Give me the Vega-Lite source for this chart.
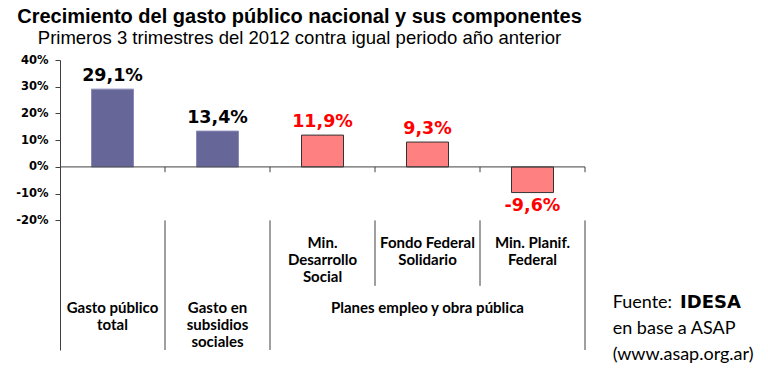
{
  "$schema": "https://vega.github.io/schema/vega-lite/v6.json",
  "width": 525,
  "height": 290,
  "autosize": "none",
  "padding": {"left": 60, "top": 60, "right": 183, "bottom": 21},
  "background": "white",
  "config": {"view": {"stroke": null}, "text": {"lineBreak": "\n"}},
  "title": {
    "text": "Crecimiento del gasto público nacional y sus componentes",
    "subtitle": "Primeros 3 trimestres del 2012 contra igual periodo año anterior",
    "anchor": "middle",
    "dx": -23,
    "font": "Liberation Sans",
    "fontSize": 20,
    "fontWeight": "bold",
    "color": "black",
    "subtitleFont": "Liberation Sans",
    "subtitleFontSize": 18.5,
    "subtitleColor": "black",
    "subtitlePadding": 2,
    "offset": 7
  },
  "datasets": {
    "bars": [
      {"cat": "Gasto público total", "valor": 29.1, "etiqueta": "29,1%", "grupo": "total"},
      {"cat": "Gasto en subsidios sociales", "valor": 13.4, "etiqueta": "13,4%", "grupo": "total"},
      {"cat": "Min. Desarrollo Social", "valor": 11.9, "etiqueta": "11,9%", "grupo": "planes"},
      {"cat": "Fondo Federal Solidario", "valor": 9.3, "etiqueta": "9,3%", "grupo": "planes"},
      {"cat": "Min. Planif. Federal", "valor": -9.6, "etiqueta": "-9,6%", "grupo": "planes"}
    ],
    "tabla": [
      {"cat": "Gasto público total", "texto": "Gasto público\ntotal", "nivel": "bajo"},
      {"cat": "Gasto en subsidios sociales", "texto": "Gasto en\nsubsidios\nsociales", "nivel": "bajo"},
      {"cat": "Fondo Federal Solidario", "texto": "Planes empleo y obra pública", "nivel": "bajo"},
      {"cat": "Min. Desarrollo Social", "texto": "Min.\nDesarrollo\nSocial", "nivel": "alto"},
      {"cat": "Fondo Federal Solidario", "texto": "Fondo Federal\nSolidario", "nivel": "alto"},
      {"cat": "Min. Planif. Federal", "texto": "Min. Planif.\nFederal", "nivel": "alto"}
    ]
  },
  "layer": [
    {
      "data": {"name": "bars"},
      "mark": {"type": "bar", "width": {"band": 0.4}, "strokeWidth": 1},
      "encoding": {
        "x": {"field": "cat", "type": "nominal", "sort": null,
              "scale": {"domain": ["Gasto público total", "Gasto en subsidios sociales", "Min. Desarrollo Social", "Fondo Federal Solidario", "Min. Planif. Federal"], "paddingInner": 0, "paddingOuter": 0},
              "axis": null},
        "y": {"field": "valor", "type": "quantitative",
              "scale": {"domain": [-68.5, 40], "nice": false, "zero": false},
              "axis": {"values": [-20, -10, 0, 10, 20, 30, 40], "labelExpr": "datum.value + '%'", "title": null, "grid": false,
                       "domainColor": "#404040", "tickColor": "#404040", "tickSize": 5, "labelPadding": 7,
                       "labelFont": "DejaVu Sans", "labelFontWeight": "bold", "labelFontSize": 11.5, "labelColor": "black"}},
        "color": {"condition": {"test": "datum.grupo === 'total'", "value": "#666699"}, "value": "#FF8080"},
        "stroke": {"condition": {"test": "datum.grupo === 'total'", "value": "#8a8ab8"}, "value": "#333333"}
      }
    },
    {
      "data": {"values": [{}]},
      "mark": {"type": "rule", "color": "#404040", "strokeWidth": 1},
      "encoding": {"y": {"datum": 0, "type": "quantitative"}}
    },
    {
      "data": {"name": "bars"},
      "mark": {"type": "rule", "color": "#404040", "strokeWidth": 1},
      "encoding": {
        "x": {"field": "cat", "type": "nominal", "bandPosition": 1},
        "y": {"datum": 0, "type": "quantitative"},
        "y2": {"datum": -2}
      }
    },
    {
      "data": {"values": [{"cat": "Gasto en subsidios sociales"}, {"cat": "Min. Desarrollo Social"}]},
      "mark": {"type": "rule", "color": "#404040", "strokeWidth": 1},
      "encoding": {
        "x": {"field": "cat", "type": "nominal", "bandPosition": 0},
        "y": {"datum": -20, "type": "quantitative"},
        "y2": {"datum": -68.5}
      }
    },
    {
      "data": {"values": [{"cat": "Min. Planif. Federal"}]},
      "mark": {"type": "rule", "color": "#404040", "strokeWidth": 1},
      "encoding": {
        "x": {"field": "cat", "type": "nominal", "bandPosition": 1},
        "y": {"datum": -20, "type": "quantitative"},
        "y2": {"datum": -68.5}
      }
    },
    {
      "data": {"values": [{"cat": "Fondo Federal Solidario"}, {"cat": "Min. Planif. Federal"}]},
      "mark": {"type": "rule", "color": "#404040", "strokeWidth": 1},
      "encoding": {
        "x": {"field": "cat", "type": "nominal", "bandPosition": 0},
        "y": {"datum": -20, "type": "quantitative"},
        "y2": {"datum": -44.5}
      }
    },
    {
      "data": {"name": "bars"},
      "transform": [{"filter": "datum.valor >= 0"}],
      "mark": {"type": "text", "font": "DejaVu Sans", "fontWeight": "bold", "fontSize": 17.5, "baseline": "alphabetic", "dy": -8.5},
      "encoding": {
        "x": {"field": "cat", "type": "nominal"},
        "y": {"field": "valor", "type": "quantitative"},
        "text": {"field": "etiqueta"},
        "color": {"condition": {"test": "datum.grupo === 'total'", "value": "black"}, "value": "#FF0000"}
      }
    },
    {
      "data": {"name": "bars"},
      "transform": [{"filter": "datum.valor < 0"}],
      "mark": {"type": "text", "font": "DejaVu Sans", "fontWeight": "bold", "fontSize": 17.5, "baseline": "alphabetic", "dy": 18.5, "color": "#FF0000"},
      "encoding": {
        "x": {"field": "cat", "type": "nominal"},
        "y": {"field": "valor", "type": "quantitative"},
        "text": {"field": "etiqueta"}
      }
    },
    {
      "data": {"name": "tabla"},
      "transform": [{"filter": "datum.nivel === 'alto'"}],
      "mark": {"type": "text", "font": "Lato", "fontWeight": "bold", "fontSize": 15, "baseline": "top", "lineHeight": 17, "color": "black"},
      "encoding": {
        "x": {"field": "cat", "type": "nominal"},
        "y": {"datum": -26, "type": "quantitative"},
        "text": {"field": "texto"}
      }
    },
    {
      "data": {"name": "tabla"},
      "transform": [{"filter": "datum.nivel === 'bajo'"}],
      "mark": {"type": "text", "font": "Lato", "fontWeight": "bold", "fontSize": 15, "baseline": "top", "lineHeight": 17, "color": "black"},
      "encoding": {
        "x": {"field": "cat", "type": "nominal"},
        "y": {"datum": -50, "type": "quantitative"},
        "text": {"field": "texto"}
      }
    },
    {
      "data": {"values": [{"cat": "Min. Planif. Federal"}]},
      "mark": {"type": "text", "text": "Fuente:\nen base a ASAP\n(www.asap.org.ar)", "font": "Lato", "fontSize": 18, "align": "left", "baseline": "alphabetic", "lineHeight": 26, "dx": 27.7, "color": "black"},
      "encoding": {
        "x": {"field": "cat", "type": "nominal", "bandPosition": 1},
        "y": {"datum": -52.9, "type": "quantitative"}
      }
    },
    {
      "data": {"values": [{"cat": "Min. Planif. Federal"}]},
      "mark": {"type": "text", "text": "IDESA", "font": "DejaVu Sans", "fontWeight": "bold", "fontSize": 18, "align": "left", "baseline": "alphabetic", "dx": 95, "color": "black"},
      "encoding": {
        "x": {"field": "cat", "type": "nominal", "bandPosition": 1},
        "y": {"datum": -52.9, "type": "quantitative"}
      }
    }
  ]
}
